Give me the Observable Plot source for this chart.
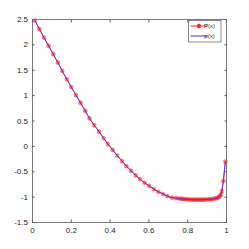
<!DOCTYPE html>
<html><head><meta charset="utf-8">
<script src="https://cdn.jsdelivr.net/npm/d3@7"></script>
<script src="https://cdn.jsdelivr.net/npm/@observablehq/plot@0.6"></script>
<style>
html,body{margin:0;padding:0;background:#fff;}
svg{font-family:"Liberation Sans",Arial,sans-serif;}
</style></head>
<body><div id="chart"></div>
<script>
const xs = [0.012,0.036,0.059,0.083,0.107,0.131,0.153,0.177,0.2,0.224,0.248,0.272,0.294,0.318,0.343,0.367,0.389,0.413,0.437,0.461,0.484,0.508,0.532,0.554,0.578,0.602,0.625,0.649,0.673,0.695,0.719,0.74,0.755,0.765,0.775,0.785,0.795,0.805,0.815,0.825,0.835,0.845,0.855,0.865,0.875,0.885,0.895,0.905,0.915,0.925,0.935,0.945,0.953,0.96,0.966,0.971,0.976,0.984,0.994];
const ys = [2.48,2.31,2.145,1.98,1.816,1.65,1.49,1.32,1.17,1.01,0.855,0.70,0.55,0.42,0.29,0.16,0.046,-0.07,-0.18,-0.29,-0.39,-0.48,-0.57,-0.645,-0.717,-0.78,-0.84,-0.895,-0.94,-0.98,-1.01,-1.02,-1.027,-1.032,-1.036,-1.04,-1.043,-1.046,-1.048,-1.05,-1.05,-1.05,-1.05,-1.05,-1.05,-1.049,-1.047,-1.045,-1.042,-1.038,-1.033,-1.025,-1.015,-1.0,-0.98,-0.95,-0.88,-0.68,-0.30];
const xTicks = [0,0.2,0.4,0.6,0.8,1];
const yTicks = [-1.5,-1,-0.5,0,0.5,1,1.5,2,2.5];
const seriesNames = ["P(x)","p(x)"];
const data = xs.map((x,i)=>({x, y: ys[i]}));
const axisColor = "#5a5a5a";
const chart = Plot.plot({
  width: 249, height: 249,
  marginLeft: 32, marginRight: 23, marginTop: 19, marginBottom: 27,
  x: {domain:[0,1]},
  y: {domain:[-1.5,2.5]},
  style: {fontSize: "8px", color: "#262626", background: "#fff"},
  marks: [
    Plot.frame({stroke: axisColor, strokeWidth: 0.8}),
    Plot.axisX({ticks: xTicks, anchor: "bottom", tickSize: -2.5, tickPadding: 7, stroke: axisColor, label: null, tickFormat: d => String(d)}),
    Plot.axisX({ticks: xTicks, anchor: "top", tickSize: -2.5, stroke: axisColor, label: null, tickFormat: () => ""}),
    Plot.axisY({ticks: yTicks, anchor: "left", tickSize: -2.5, tickPadding: 7, stroke: axisColor, label: null, tickFormat: d => String(d)}),
    Plot.axisY({ticks: yTicks, anchor: "right", tickSize: -2.5, stroke: axisColor, label: null, tickFormat: () => ""}),
    Plot.line(data, {x:"x", y:"y", stroke:"#ff3030", strokeWidth: 1}),
    Plot.dot(data, {x:"x", y:"y", symbol:"asterisk", r: 2.2, stroke:"#ff2020", strokeWidth: 1.6, strokeOpacity: 0.6}),
    Plot.line(data, {x:"x", y:"y", stroke:"#3030ff", strokeWidth: 0.9, strokeOpacity: 0.85})
  ]
});
document.getElementById("chart").appendChild(chart);
// legend
const svg = d3.select(chart);
const lg = svg.append("g").attr("font-size", 6).attr("fill", "#262626");
const lx = 188.5, ly = 20.5, lw = 32.5, lh = 21.5;
lg.append("rect").attr("x", lx).attr("y", ly).attr("width", lw).attr("height", lh)
  .attr("fill", "#fff").attr("stroke", axisColor).attr("stroke-width", 0.7);
const cols = ["#ff3030", "#8080ff"];
seriesNames.forEach((name, i) => {
  const yy = ly + 5.5 + i * 10;
  lg.append("line").attr("x1", lx + 2).attr("x2", lx + 19).attr("y1", yy).attr("y2", yy)
    .attr("stroke", cols[i]).attr("stroke-width", i ? 1.6 : 1);
  if (i === 0) {
    lg.append("path").attr("d", d3.symbol(d3.symbolAsterisk, 14)()).attr("transform", `translate(${lx+10.5},${yy})`)
      .attr("stroke", "#ff2020").attr("stroke-width", 1.6).attr("fill", "none");
  }
  lg.append("text").attr("x", lx + 21).attr("y", yy + 2.2).text(name);
});
</script></body></html>
